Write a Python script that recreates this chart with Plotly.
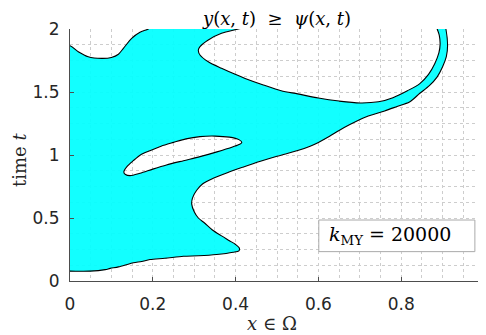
import plotly.graph_objects as go

# ---- data: boundary of the region where y(x,t) >= psi(x,t) ----
# outer boundary (edge pieces lie just outside the axes box so only curves get an outline)
region_x = [0.0, -0.04, -0.04, 0.0, 0.020, 0.044, 0.0765, 0.100, 0.117, 0.129, 0.149, 0.169, 0.189, 0.200,
            0.447, 0.4066, 0.366, 0.334, 0.314, 0.310, 0.314, 0.334, 0.366, 0.399, 0.423, 0.467, 0.51, 0.55,
            0.60, 0.65, 0.70, 0.745, 0.78, 0.815, 0.845, 0.866, 0.881, 0.891, 0.894, 0.892, 0.887, 0.884,
            0.905, 0.908, 0.912, 0.909, 0.900, 0.887, 0.868, 0.845, 0.82, 0.79, 0.76, 0.716, 0.676, 0.650,
            0.627, 0.60, 0.58, 0.55, 0.50, 0.46, 0.419, 0.38, 0.346, 0.32, 0.306, 0.296, 0.294, 0.300, 0.310,
            0.325, 0.344, 0.365, 0.385, 0.400, 0.409, 0.408, 0.394, 0.354, 0.31, 0.274, 0.229, 0.193, 0.173,
            0.153, 0.117, 0.097, 0.085, 0.048, 0.0]
region_t = [0.078, 0.078, 1.867, 1.867, 1.82, 1.78, 1.767, 1.774, 1.80, 1.847, 1.926, 1.974, 2.0, 2.03,
            2.035, 2.0, 1.966, 1.913, 1.86, 1.833, 1.794, 1.74, 1.688, 1.64, 1.608, 1.556, 1.51, 1.485,
            1.452, 1.428, 1.413, 1.422, 1.455, 1.51, 1.567, 1.64, 1.725, 1.81, 1.88, 1.95, 2.0, 2.04,
            2.04, 2.0, 1.87, 1.78, 1.70, 1.62, 1.55, 1.49, 1.42, 1.385, 1.35, 1.304, 1.242, 1.195,
            1.148, 1.10, 1.07, 1.035, 0.99, 0.95, 0.905, 0.86, 0.815, 0.77, 0.72, 0.66, 0.61, 0.55, 0.50,
            0.46, 0.405, 0.36, 0.32, 0.29, 0.262, 0.24, 0.228, 0.21, 0.20, 0.196, 0.18, 0.17, 0.155,
            0.145, 0.112, 0.10, 0.09, 0.078, 0.078]
# island (hole) inside the region
hole_x = [0.130, 0.134, 0.145, 0.169, 0.20, 0.233, 0.274, 0.314, 0.355, 0.394, 0.410, 0.415, 0.408,
          0.385, 0.35, 0.314, 0.28, 0.25, 0.22, 0.193, 0.170, 0.153, 0.138, 0.130]
hole_t = [0.866, 0.845, 0.836, 0.855, 0.888, 0.921, 0.955, 0.987, 1.025, 1.066, 1.086, 1.10, 1.122,
          1.142, 1.150, 1.146, 1.128, 1.10, 1.07, 1.034, 1.00, 0.955, 0.91, 0.866]

x_ticks = [0, 0.2, 0.4, 0.6, 0.8, 1]
x_ticklabels = ["0", "0.2", "0.4", "0.6", "0.8", "1"]
t_ticks = [0, 0.5, 1, 1.5, 2]
t_ticklabels = ["0", "0.5", "1", "1.5", "2"]
k_my = 20000

xs = region_x + [None] + hole_x
ts = region_t + [None] + hole_t

fig = go.Figure()
fig.add_trace(go.Scatter(
    x=xs, y=ts, mode="lines", fill="toself",
    fillcolor="rgba(0,255,255,0.93)",
    line=dict(color="black", width=1.1, shape="spline", smoothing=0.8),
    connectgaps=False, hoverinfo="skip", showlegend=False,
))

grid_col = "rgb(205,205,205)"
axis_common = dict(
    showline=True, linecolor="#4d4d4d", linewidth=1, mirror=False,
    ticks="inside", ticklen=4, tickcolor="#4d4d4d", tickwidth=1,
    showgrid=True, gridcolor=grid_col, griddash="dot", gridwidth=1,
    zeroline=False, automargin=False,
    tickfont=dict(family="DejaVu Sans", size=17, color="#262626"),
)
fig.update_xaxes(range=[0, 1], tickvals=x_ticks, ticktext=x_ticklabels,
                 minor=dict(dtick=0.05, showgrid=True, gridcolor=grid_col, griddash="dot", ticks=""),
                 ticklabelstandoff=8, **axis_common)
fig.update_yaxes(range=[0, 2], tickvals=t_ticks, ticktext=t_ticklabels,
                 minor=dict(dtick=0.125, showgrid=True, gridcolor=grid_col, griddash="dot", ticks=""),
                 ticklabelstandoff=6, **axis_common)

fig.add_shape(type="rect", xref="x", yref="y", x0=0.601, x1=0.978, y0=0.233, y1=0.484,
              line=dict(color="rgb(170,170,170)", width=1), fillcolor="white", layer="above")
fig.add_annotation(x=0.772, y=0.36, xref="x", yref="y", showarrow=False,
                   text="<i>k</i><sub>MY</sub> = %d" % k_my,
                   font=dict(family="DejaVu Serif", size=19, color="black"))

# the page has an 8px body margin, so the figure starts at (8, 8) in the window
W, H = 478, 327
L, R, T, B = 62, 2, 21, 54
pw, ph = W - L - R, H - T - B

# axis labels, placed by figure-pixel position (from top-left) converted to paper coords
fig.add_annotation(x=(264 - L) / pw, y=(H - 315 - B) / ph, xref="paper", yref="paper", showarrow=False,
                   text="<i>x</i> ∈ Ω", yanchor="middle", xanchor="center",
                   font=dict(family="DejaVu Serif", size=18, color="#262626"))
fig.add_annotation(x=(12 - L) / pw, y=(H - 152 - B) / ph, xref="paper", yref="paper", showarrow=False,
                   text="time <i>t</i>", textangle=-90, xanchor="center", yanchor="middle",
                   font=dict(family="DejaVu Serif", size=18, color="#262626"))

fig.update_layout(
    width=W, height=H,
    margin=dict(l=L, r=R, t=T, b=B),
    paper_bgcolor="white", plot_bgcolor="white",
    title=dict(text="<i>y</i>(<i>x</i>, <i>t</i>)\u00a0 ≥ \u00a0<i>ψ</i>(<i>x</i>, <i>t</i>)",
               x=0.5, xref="paper", xanchor="center",
               y=1 - 11 / H, yref="container", yanchor="middle",
               font=dict(family="DejaVu Serif", size=18, color="black")),
)
fig.write_html("out.html")
